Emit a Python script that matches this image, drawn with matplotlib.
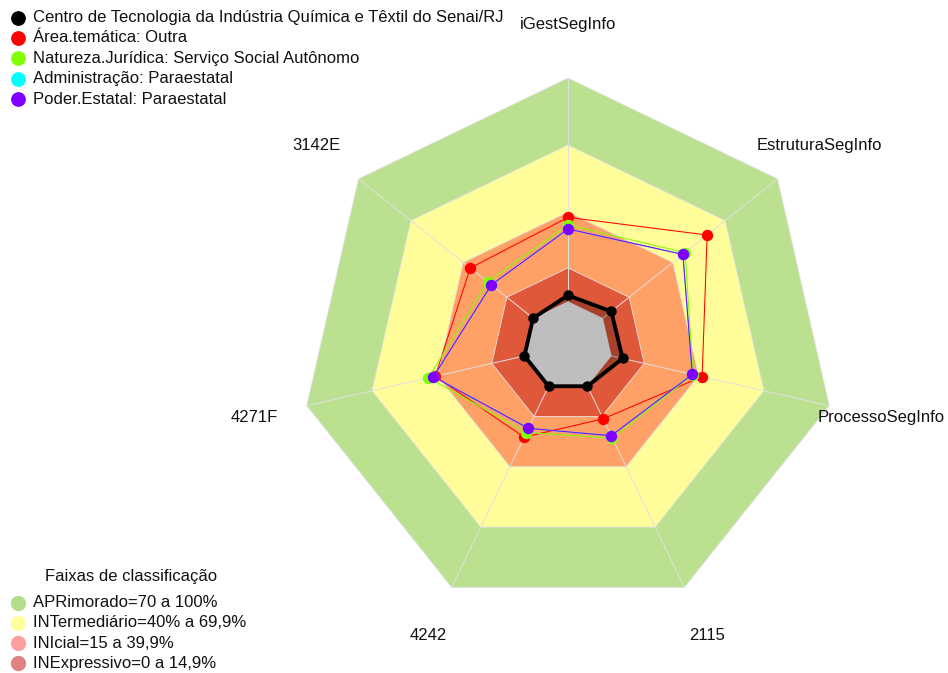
import numpy as np
import matplotlib
matplotlib.use("Agg")
import matplotlib.pyplot as plt
from matplotlib.lines import Line2D

plt.rcParams['font.family'] = ['Liberation Sans', 'DejaVu Sans']

# ---------------- data ----------------
axis_labels = ["iGestSegInfo", "EstruturaSegInfo", "ProcessoSegInfo",
               "2115", "4242", "4271F", "3142E"]

series_names = ["Centro de Tecnologia da Indústria Química e Têxtil do Senai/RJ",
                "Área.temática: Outra",
                "Natureza.Jurídica: Serviço Social Autônomo",
                "Administração: Paraestatal",
                "Poder.Estatal: Paraestatal"]
centro = [2.7, 4.8, 5.1, 0.0, 0.0, 0.0, 0.0]
area_tematica = [37.6, 59.7, 41.6, 16.2, 25.3, 41.0, 36.0]
natureza_juridica = [34.2, 47.1, 37.4, 25.8, 23.0, 44.1, 26.1]
administracao = [32.4, 45.8, 37.1, 24.6, 20.9, 41.8, 23.9]
poder_estatal = [32.4, 45.8, 37.1, 24.6, 20.9, 41.8, 23.9]
series_values = [centro, area_tematica, natureza_juridica, administracao, poder_estatal]
series_colors = ["#000000", "#FF0000", "#80FF00", "#00FFFF", "#8000FF"]

band_upper = [100, 70, 40, 15]
band_colors = ["#BBE08F", "#FFFD99", "#FFA066", "#E0583A"]
band_legend_colors = ["#B5DE8C", "#FFFF9C", "#FFA0A0", "#E08282"]
band_labels = ["APRimorado=70 a 100%", "INTermediário=40% a 69,9%",
               "INIcial=15 a 39,9%", "INExpressivo=0 a 14,9%"]
band_title = "Faixas de classificação"

# ---------------- geometry ----------------
W, H = 948, 673
CX, CY, R = 568, 346, 268
n = len(axis_labels)
ang = np.pi / 2 - 2 * np.pi * np.arange(n) / n


def rad(v):
    return 1.0 / 6.0 + (5.0 / 6.0) * np.asarray(v, dtype=float) / 100.0


def xy(vals):
    r = rad(vals)
    x = r * np.cos(ang)
    y = r * np.sin(ang)
    return np.append(x, x[0]), np.append(y, y[0])


fig = plt.figure(figsize=(W / 100, H / 100), dpi=100)
ax = fig.add_axes([0, 0, 1, 1])
ax.set_xlim(-CX / R, (W - CX) / R)
ax.set_ylim(-(H - CY) / R, CY / R)
ax.axis('off')

# bands
for up, col in zip(band_upper, band_colors):
    bx, by = xy([up] * n)
    ax.fill(bx, by, facecolor=col, edgecolor="#E2E2E2", lw=0.6, zorder=1)

# radial grid lines
for a in ang:
    ax.plot([0, np.cos(a)], [0, np.sin(a)], color="#E0E0E0", lw=0.7, zorder=2)

# black series fill (under centre)
fx, fy = xy(centro)
ax.fill(fx, fy, facecolor="black", alpha=0.25, lw=0, zorder=3)

# grey centre
gx, gy = xy([0] * n)
ax.fill(gx, gy, facecolor="#BEBEBE", lw=0, zorder=4)

# series
for i, (vals, col) in enumerate(zip(series_values, series_colors)):
    sx, sy = xy(vals)
    if i == 0:
        ax.plot(sx, sy, color=col, lw=2.8, zorder=5)
        ax.plot(sx[:-1], sy[:-1], 'o', color=col, ms=6.5, zorder=6)
    else:
        ax.plot(sx, sy, color=col, lw=0.75, zorder=5 + i)
        ax.plot(sx[:-1], sy[:-1], 'o', color=col, ms=7.2, zorder=5 + i)

# axis labels
for a, lab in zip(ang, axis_labels):
    ax.text(1.2 * np.cos(a), 1.2 * np.sin(a), lab, ha='center', va='center',
            fontsize=12, color="#111111")


def fx_(x):
    return x / W


def fy_(y):
    return 1 - y / H


# top legend
for k, (name, col) in enumerate(zip(series_names, series_colors)):
    yy = 17.5 + k * 20.4
    fig.add_artist(Line2D([fx_(18)], [fy_(yy)], marker='o', ms=9.6, color=col,
                          transform=fig.transFigure, lw=0))
    fig.text(fx_(33), fy_(yy), name, ha='left', va='center', fontsize=12,
             color="#111111")

# bottom legend
fig.text(fx_(45), fy_(577), band_title, ha='left', va='center', fontsize=12,
         color="#111111")
for k, (lab, col) in enumerate(zip(band_labels, band_legend_colors)):
    yy = 602.5 + k * 20.3
    fig.add_artist(Line2D([fx_(18)], [fy_(yy)], marker='o', ms=10, color=col,
                          transform=fig.transFigure, lw=0))
    fig.text(fx_(33), fy_(yy), lab, ha='left', va='center', fontsize=12,
             color="#111111")

fig.savefig("out.png", dpi=100)
